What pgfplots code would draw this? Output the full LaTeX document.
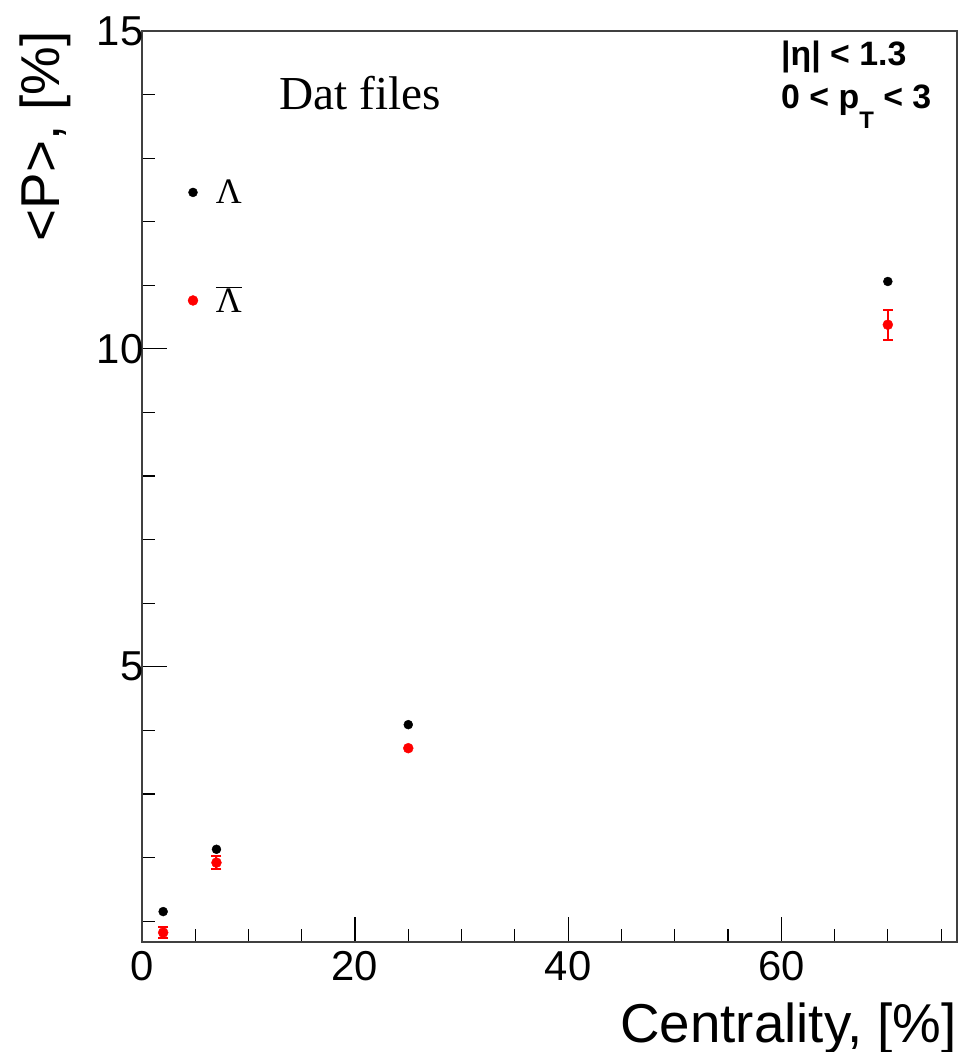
\documentclass[border=0pt]{standalone}
\usepackage{fontspec}
\setmainfont{Liberation Sans}
\newfontfamily\serif{Liberation Serif}
\usepackage{pgfplots}
\pgfplotsset{compat=1.18}
\begin{document}
\begin{tikzpicture}
\begin{axis}[
  scale only axis, width=816bp, height=912bp,
  xmin=0, xmax=76.5, ymin=0.67, ymax=15,
  xtick={0,20,40,60}, ytick={5,10,15},
  minor xtick={5,10,15,25,30,35,45,50,55,65,70,75},
  minor ytick={1,2,3,4,6,7,8,9,11,12,13,14},
  xtick pos=bottom, ytick pos=left, tick align=inside,
  major tick length=25bp, minor tick length=13bp,
  axis line style={black!75, line width=1.5bp},
  major tick style={black, line width=1.2bp},
  minor tick style={black, line width=1.2bp},
  /pgf/number format/assume math mode=true,
  tick label style={font=\fontsize{42}{50}\selectfont},
  xticklabel style={yshift=-6bp},
  yticklabel style={xshift=5bp},
  xlabel={Centrality, [\%]},
  ylabel={<P>, [\%]},
  label style={font=\fontsize{55}{60}\selectfont, inner sep=0pt},
  xlabel style={at={(rel axis cs:1,-0.1097)}, anchor=base east},
  ylabel style={at={(rel axis cs:-0.1005,1)}, anchor=base east},
  legend image code/.code={\draw[#1] plot coordinates {(0bp,0bp)};},
  legend cell align=left,
  legend style={draw=none, fill=none, at={(rel axis cs:0.0527,0.839)}, anchor=north west,
    row sep=82bp, column sep=18bp, font=\serif\fontsize{36}{40}\selectfont,
    nodes={inner sep=0pt}},
  errbar/.style={forget plot, draw=red, line width=2bp, mark=-, mark size=5bp,
    mark options={draw=red, line width=2bp}},
]
\coordinate (sw) at (rel axis cs:0,0);
\coordinate (ne) at (rel axis cs:1,1);

% antilambda error bars (value -+ error)
\addplot[errbar] coordinates {(2,0.73) (2,0.91)};
\addplot[errbar] coordinates {(7,1.815) (7,2.025)};
\addplot[errbar] coordinates {(70,10.145) (70,10.615)};

\addplot[only marks, mark=*, black, mark size=4.5bp]
  coordinates {(2,1.15) (7,2.13) (25,4.09) (70,11.06)};
\addlegendentry{Λ}

\addplot[only marks, mark=*, red, mark size=5bp]
  coordinates {(2,0.82) (7,1.92) (25,3.72) (70,10.38)};
\addlegendentry{$\overline{\hbox{\serif\fontsize{36}{40}\selectfont Λ}}$}

\node[anchor=base west, inner sep=0pt, font=\serif\fontsize{47.5}{50}\selectfont] at (rel axis cs:0.169,0.914) {Dat files};
\node[anchor=base west, inner sep=0pt, font=\bfseries\fontsize{34}{38}\selectfont] at (rel axis cs:0.784,0.9616) {|η| < 1.3};
\node[anchor=base west, inner sep=0pt, font=\bfseries\fontsize{34}{38}\selectfont] at (rel axis cs:0.784,0.9145) {0 < p\raisebox{-20bp}{\fontsize{24}{26}\selectfont T} < 3};
\end{axis}
\pgfresetboundingbox
\path[use as bounding box] ([xshift=-142bp,yshift=-110bp]sw) rectangle ([xshift=4bp,yshift=31bp]ne);
\end{tikzpicture}
\end{document}
